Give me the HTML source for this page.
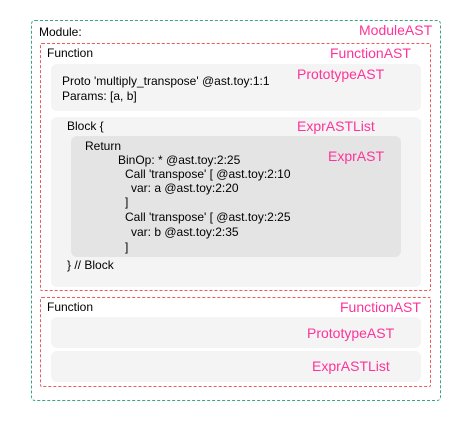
<!DOCTYPE html>
<html><head><style>
body{margin:0;width:471px;height:421px;background:#fff;position:relative;font-family:"Liberation Sans",Arial,sans-serif;overflow:hidden}
div{position:absolute;box-sizing:border-box}
.t{font-size:12px;color:#000;line-height:14px;white-space:pre}
.p{font-size:14px;color:#FF3399;line-height:16px;white-space:pre}
.g{background:#f4f4f4;border-radius:6px}
</style></head><body>
<div style="left:31px;top:20px;width:410px;height:381px;border:1px dashed #3aa57f;border-radius:4px"></div>
<div style="left:40px;top:43px;width:391px;height:248px;border:1px dashed #ec5a5a;border-radius:2px"></div>
<div style="left:40px;top:297px;width:391px;height:90px;border:1px dashed #ec5a5a;border-radius:2px"></div>
<div class="g" style="left:51px;top:64px;width:370px;height:47px"></div>
<div class="g" style="left:51px;top:117px;width:370px;height:170px"></div>
<div style="left:71px;top:136px;width:330px;height:121px;background:#e4e4e4;border-radius:6px"></div>
<div class="g" style="left:51px;top:317px;width:370px;height:31px"></div>
<div class="g" style="left:51px;top:351px;width:370px;height:31px"></div>

<div class="t" style="left:39px;top:25px">Module:</div>
<div class="p" style="left:359px;top:22px">ModuleAST</div>
<div class="t" style="left:47px;top:46px">Function</div>
<div class="p" style="left:330px;top:45px">FunctionAST</div>
<div class="p" style="left:297px;top:66px">PrototypeAST</div>
<div class="t" style="left:62px;top:74px">Proto 'multiply_transpose' @ast.toy:1:1</div>
<div class="t" style="left:62px;top:89px">Params: [a, b]</div>
<div class="t" style="left:67px;top:119px">Block {</div>
<div class="p" style="left:297px;top:118px">ExprASTList</div>
<div class="t" style="left:85px;top:139px">Return</div>
<div class="p" style="left:328px;top:148px">ExprAST</div>
<div class="t" style="left:118px;top:153px">BinOp: * @ast.toy:2:25</div>
<div class="t" style="left:125px;top:167px">Call 'transpose' [ @ast.toy:2:10</div>
<div class="t" style="left:131px;top:181px">var: a @ast.toy:2:20</div>
<div class="t" style="left:125px;top:195px">]</div>
<div class="t" style="left:125px;top:210px">Call 'transpose' [ @ast.toy:2:25</div>
<div class="t" style="left:131px;top:225px">var: b @ast.toy:2:35</div>
<div class="t" style="left:125px;top:240px">]</div>
<div class="t" style="left:67px;top:258px">} // Block</div>
<div class="t" style="left:47px;top:300px">Function</div>
<div class="p" style="left:340px;top:299px">FunctionAST</div>
<div class="p" style="left:307px;top:325px">PrototypeAST</div>
<div class="p" style="left:312px;top:358px">ExprASTList</div>
</body></html>
